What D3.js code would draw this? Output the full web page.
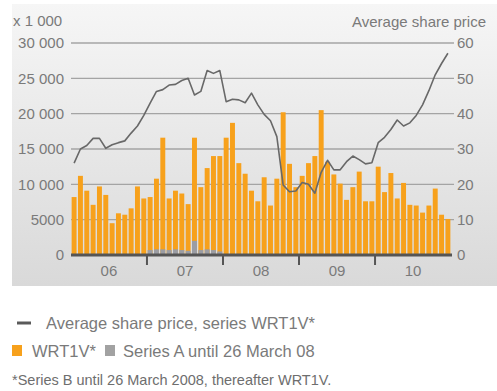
<!DOCTYPE html>
<html>
<head>
<meta charset="utf-8">
<script src="https://cdn.jsdelivr.net/npm/d3@7"></script>
<style>
  html, body { margin: 0; padding: 0; background: #ffffff; }
  svg { display: block; font-family: "Liberation Sans", Arial, sans-serif; }
</style>
</head>
<body>
<svg id="chart" width="497" height="391"></svg>
<script>
// Year labels on the time axis and month categories (Jan 2006 – Dec 2010)
const years = ["06", "07", "08", "09", "10"];
const monthNames = ["Jan","Feb","Mar","Apr","May","Jun","Jul","Aug","Sep","Oct","Nov","Dec"];
const months = years.flatMap(y => monthNames.map(m => m + " " + y));

// Monthly trading volume, WRT1V* (shares)
const volumeWRT1V = [
  8200, 11200, 9100, 7100, 9700, 8500, 4500, 5900, 5700, 6600, 9700, 8000,
  8200, 10800, 16600, 8000, 9100, 8700, 7200, 16600, 9600, 12300, 14000, 14000,
  16600, 18700, 13000, 11500, 9100, 7600, 11000, 7000, 10800, 20200, 12900, 9600,
  11200, 13000, 14000, 20500, 13200, 11400, 10100, 7800, 9600, 11800, 7600, 7600,
  12500, 8900, 11600, 8000, 10200, 7100, 7000, 6000, 7000, 9400, 5700, 5100
];

// Monthly trading volume, Series A until 26 March 08 (shares)
const volumeSeriesA = [
  0, 0, 0, 0, 0, 0, 0, 0, 0, 0, 0, 0,
  700, 800, 800, 700, 800, 700, 600, 2000, 700, 800, 700, 500,
  0, 0, 0, 0, 0, 0, 0, 0, 0, 0, 0, 0,
  0, 0, 0, 0, 0, 0, 0, 0, 0, 0, 0, 0,
  0, 0, 0, 0, 0, 0, 0, 0, 0, 0, 0, 0
];

// Average share price per month, series WRT1V*
const avgPrice = [
  26.0, 30.0, 31.0, 33.0, 33.0, 30.2, 31.2, 31.8, 32.3, 34.5, 36.5, 39.5,
  43.0, 46.3, 46.8, 48.1, 48.3, 49.4, 50.0, 45.3, 46.3, 52.2, 51.4, 52.2,
  43.4, 44.1, 43.9, 43.1, 45.8, 42.5, 39.8, 38.0, 33.5, 19.8, 17.9, 18.1,
  20.5, 20.0, 17.5, 23.4, 26.8, 24.1, 24.1, 26.4, 28.0, 27.0, 25.8, 26.1,
  31.8, 33.3, 35.5, 38.2, 36.5, 37.4, 39.5, 42.5, 46.5, 51.0, 54.2, 57.1
];

// Axis ticks
const volumeTicks = [0, 5000, 10000, 15000, 20000, 25000, 30000];
const priceTicks = [0, 10, 20, 30, 40, 50, 60];

const svg = d3.select("#chart");
const textGrey = "#7a7a7a";
const orange = "#f7a11c";
const greyBar = "#9b9da4";

// Background panel with vertical gradient
const defs = svg.append("defs");
const grad = defs.append("linearGradient").attr("id", "panelGrad")
  .attr("x1", 0).attr("y1", 0).attr("x2", 0).attr("y2", 1);
grad.append("stop").attr("offset", "0%").attr("stop-color", "#f6f6f6");
grad.append("stop").attr("offset", "100%").attr("stop-color", "#d9d9d9");
svg.append("rect").attr("x", 12).attr("y", 4).attr("width", 485).attr("height", 282)
  .attr("fill", "url(#panelGrad)");

const plot = { left: 71, right: 451, top: 43, bottom: 255 };

const x = d3.scaleBand().domain(months).range([plot.left, plot.right])
  .paddingInner(0.22).paddingOuter(0.1);
const yVol = d3.scaleLinear().domain([0, 30000]).range([plot.bottom, plot.top]);
const yPrice = d3.scaleLinear().domain([0, 60]).range([plot.bottom, plot.top]);

const fmtVol = v => v >= 10000 ? d3.format(",")(v).replace(",", " ") : String(v);

// Gridlines
svg.append("g").selectAll("line").data(volumeTicks.filter(t => t > 0)).join("line")
  .attr("x1", plot.left).attr("x2", plot.right + 3)
  .attr("y1", d => yVol(d)).attr("y2", d => yVol(d))
  .attr("stroke", "#a4a4a4").attr("stroke-width", 1.3);

// Left axis labels
const leftAxis = d3.axisLeft(yVol).tickValues(volumeTicks).tickFormat(fmtVol)
  .tickSize(0).tickPadding(0);
const gL = svg.append("g").attr("transform", `translate(64,0)`).call(leftAxis);
gL.select(".domain").remove();
gL.selectAll("text").attr("fill", textGrey).style("font-size", "15px")
  .style("font-family", "Liberation Sans, Arial, sans-serif");

// Right axis labels
const rightAxis = d3.axisRight(yPrice).tickValues(priceTicks).tickSize(0).tickPadding(0);
const gR = svg.append("g").attr("transform", `translate(457,0)`).call(rightAxis);
gR.select(".domain").remove();
gR.selectAll("text").attr("fill", textGrey).style("font-size", "15px")
  .style("font-family", "Liberation Sans, Arial, sans-serif");

// Axis titles
svg.append("text").attr("x", 13).attr("y", 26).attr("fill", textGrey)
  .style("font-size", "15px").text("x 1 000");
svg.append("text").attr("x", 486).attr("y", 27).attr("text-anchor", "end")
  .attr("fill", textGrey).style("font-size", "15px").text("Average share price");

// WRT1V* volume bars
svg.append("g").selectAll("rect").data(volumeWRT1V).join("rect")
  .attr("x", (d, i) => x(months[i]))
  .attr("width", x.bandwidth())
  .attr("y", d => yVol(d))
  .attr("height", d => yVol(0) - yVol(d))
  .attr("fill", orange);

// Series A volume bars
svg.append("g").selectAll("rect").data(volumeSeriesA).join("rect")
  .attr("x", (d, i) => x(months[i]))
  .attr("width", x.bandwidth())
  .attr("y", d => yVol(d))
  .attr("height", d => yVol(0) - yVol(d))
  .attr("fill", greyBar);

// Baseline and year separators
svg.append("line").attr("x1", plot.left).attr("x2", plot.right + 1)
  .attr("y1", plot.bottom).attr("y2", plot.bottom)
  .attr("stroke", "#555555").attr("stroke-width", 3);
const yearStarts = years.slice(1).map(y => x("Jan " + y) - x.step() * x.paddingInner() / 2);
svg.append("g").selectAll("line").data(yearStarts).join("line")
  .attr("x1", d => d).attr("x2", d => d)
  .attr("y1", plot.bottom).attr("y2", plot.bottom + 10)
  .attr("stroke", "#555555").attr("stroke-width", 2);

// Year labels centred under each year
svg.append("g").selectAll("text").data(years).join("text")
  .attr("x", y => (x("Jan " + y) + x("Dec " + y) + x.bandwidth()) / 2)
  .attr("y", 276).attr("text-anchor", "middle").attr("fill", textGrey)
  .style("font-size", "15px").text(d => d);

// Average share price line
const line = d3.line()
  .x((d, i) => x(months[i]) + x.bandwidth() / 2)
  .y(d => yPrice(d));
svg.append("path").datum(avgPrice).attr("d", line)
  .attr("fill", "none").attr("stroke", "#686868").attr("stroke-width", 1.6)
  .attr("stroke-linejoin", "round");

// Legend
const legend = svg.append("g");
legend.append("line").attr("x1", 17).attr("x2", 31).attr("y1", 323).attr("y2", 323)
  .attr("stroke", "#5a5a5a").attr("stroke-width", 3);
legend.append("text").attr("x", 46).attr("y", 329).attr("fill", textGrey)
  .style("font-size", "16.5px").text("Average share price, series WRT1V*");
legend.append("rect").attr("x", 12).attr("y", 345).attr("width", 10).attr("height", 11)
  .attr("fill", orange);
legend.append("text").attr("x", 32).attr("y", 357).attr("fill", textGrey)
  .style("font-size", "16.5px").text("WRT1V*");
legend.append("rect").attr("x", 105).attr("y", 345).attr("width", 10).attr("height", 11)
  .attr("fill", "#a2a2a2");
legend.append("text").attr("x", 123).attr("y", 357).attr("fill", textGrey)
  .style("font-size", "16.5px").text("Series A until 26 March 08");
legend.append("text").attr("x", 12).attr("y", 385).attr("fill", "#6e6e6e")
  .style("font-size", "14.5px").text("*Series B until 26 March 2008, thereafter WRT1V.");
</script>
</body>
</html>
